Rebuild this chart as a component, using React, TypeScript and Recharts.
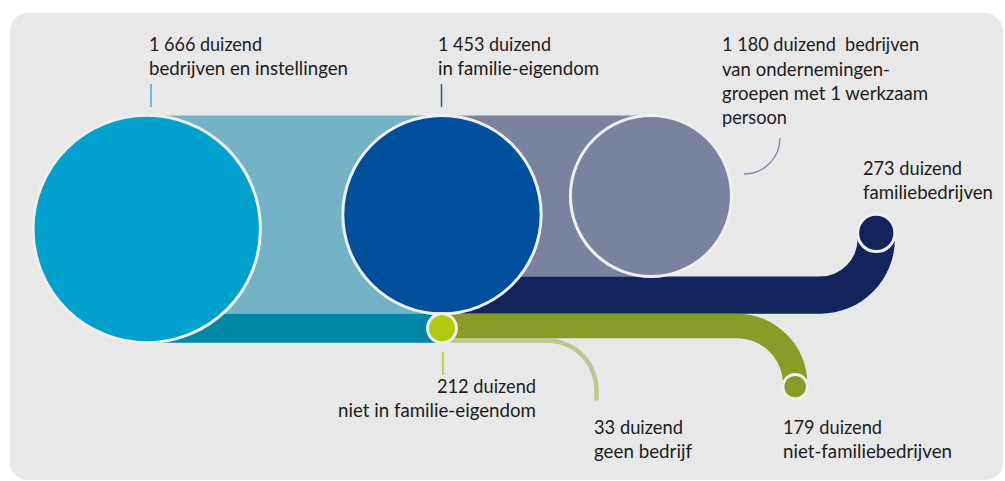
import React from 'react';
import { ComposedChart, XAxis, YAxis, ReferenceArea } from 'recharts';

// ---------- DATA (thousands) ----------
const totalValue = 1666; // bedrijven en instellingen
const ownershipNames = ['in familie-eigendom', 'niet in familie-eigendom'];
const ownershipValues = [1453, 212];
const familyOwnedNames = ['bedrijven van ondernemingengroepen met 1 werkzaam persoon', 'familiebedrijven'];
const familyOwnedValues = [1180, 273];
const notFamilyNames = ['niet-familiebedrijven', 'geen bedrijf'];
const notFamilyValues = [179, 33];

const labelTotal = ['1 666 duizend', 'bedrijven en instellingen'];
const labelFamily = ['1 453 duizend', 'in familie-eigendom'];
const labelGroups = ['1 180 duizend  bedrijven', 'van ondernemingen-', 'groepen met 1 werkzaam', 'persoon'];
const labelFamBiz = ['273 duizend', 'familiebedrijven'];
const labelNotFam = ['212 duizend', 'niet in familie-eigendom'];
const labelNoBiz = ['33 duizend', 'geen bedrijf'];
const labelNotFamBiz = ['179 duizend', 'niet-familiebedrijven'];

// ---------- LAYOUT (axis units = thousands, same scale on both axes) ----------
const W = 1005;
const H = 481;
const PX_PER_UNIT = 0.1365;
const BASE_PX = 342.7; // pixel row of value 0
const X_DOMAIN: [number, number] = [0, W / PX_PER_UNIT];
const Y_DOMAIN: [number, number] = [BASE_PX / PX_PER_UNIT - H / PX_PER_UNIT, BASE_PX / PX_PER_UNIT];
const OVERLAP = 6;
const layout = {
  col0: 1075,
  col1: 3238,
  col2: 4769,
  navyTurnX: 6007,
  navyInnerR: 276,
  navyEndY: 804,
  greenTurnX: 5399,
  greenInnerR: 337,
  greenEndY: -322,
  lightTurnX: 4007,
  lightInnerR: 346,
  lightEndY: -409,
};

const C = {
  bg: '#e8e8e8',
  ring: '#efefef',
  c1: '#00a2cd',
  band1: '#74b3c6',
  teal: '#0087a8',
  c2: '#004f9d',
  grey: '#7a829f',
  navy: '#13235c',
  greenNode: '#b1c90f',
  green: '#8a9c27',
  lightGreen: '#bdc88a',
  text: '#1c1c1c',
};

const circleShape = (fill: string, ring = true) => (p: any) => (
  <ellipse
    cx={p.x + p.width / 2}
    cy={p.y + p.height / 2}
    rx={p.width / 2}
    ry={p.height / 2}
    fill={fill}
    stroke={ring ? C.ring : 'none'}
    strokeWidth={ring ? 3 : 0}
  />
);

// quarter annulus, turning upward (center at top-left of box)
const turnUpShape = (fill: string, ratio: number) => (p: any) => {
  const { x, y, width: w, height: h } = p;
  const wi = w * ratio;
  const hi = h * ratio;
  const d = `M ${x} ${y + h} A ${w} ${h} 0 0 0 ${x + w} ${y} L ${x + wi} ${y} A ${wi} ${hi} 0 0 1 ${x} ${y + hi} Z`;
  return <path d={d} fill={fill} />;
};

// quarter annulus, turning downward (center at bottom-left of box)
const turnDownShape = (fill: string, ratio: number) => (p: any) => {
  const { x, y, width: w, height: h } = p;
  const wi = w * ratio;
  const hi = h * ratio;
  const d = `M ${x} ${y} A ${w} ${h} 0 0 1 ${x + w} ${y + h} L ${x + wi} ${y + h} A ${wi} ${hi} 0 0 0 ${x} ${y + h - hi} Z`;
  return <path d={d} fill={fill} />;
};

function Circle(cx: number, cy: number, v: number, fill: string, key: string, ring = true) {
  return (
    <ReferenceArea
      key={key}
      x1={cx - v / 2}
      x2={cx + v / 2}
      y1={cy - v / 2}
      y2={cy + v / 2}
      ifOverflow="visible"
      shape={circleShape(fill, ring)}
    />
  );
}

function Band(x1: number, x2: number, y1: number, y2: number, fill: string, key: string) {
  return (
    <ReferenceArea key={key} x1={x1} x2={x2} y1={y1} y2={y2} fill={fill} fillOpacity={1} stroke="none" ifOverflow="visible" />
  );
}

export default function App() {
  const [famVal, notFamVal] = ownershipValues;
  const [groupVal, famBizVal] = familyOwnedValues;
  const [notFamBizVal, noBizVal] = notFamilyValues;
  const top = notFamVal + famVal;

  // navy curve
  const navyRo = layout.navyInnerR + famBizVal;
  const navyCy = notFamVal + navyRo;
  // green curve
  const greenRo = layout.greenInnerR + notFamBizVal;
  const greenCy = notFamVal - greenRo;
  // light green curve
  const lightRo = layout.lightInnerR + noBizVal;
  const lightCy = noBizVal - lightRo;

  const elems: any[] = [
    Band(layout.col0, layout.col1, notFamVal, top, C.band1, 'b1'),
    Band(layout.col0, layout.col1, 0, notFamVal, C.teal, 'b2'),
    Band(layout.col1, layout.col2, top - groupVal, top, C.grey, 'b3'),
    // navy
    <ReferenceArea key="n2" x1={layout.navyTurnX} x2={layout.navyTurnX + navyRo} y1={notFamVal} y2={navyCy} ifOverflow="visible" shape={turnUpShape(C.navy, layout.navyInnerR / navyRo)} />,
    Band(layout.col1, layout.navyTurnX + OVERLAP, notFamVal, notFamVal + famBizVal, C.navy, 'n1'),
    Band(layout.navyTurnX + layout.navyInnerR, layout.navyTurnX + navyRo, navyCy - OVERLAP, layout.navyEndY, C.navy, 'n3'),
    // green
    <ReferenceArea key="g2" x1={layout.greenTurnX} x2={layout.greenTurnX + greenRo} y1={greenCy} y2={notFamVal} ifOverflow="visible" shape={turnDownShape(C.green, layout.greenInnerR / greenRo)} />,
    Band(layout.col1, layout.greenTurnX + OVERLAP, noBizVal, notFamVal, C.green, 'g1'),
    Band(layout.greenTurnX + layout.greenInnerR, layout.greenTurnX + greenRo, layout.greenEndY, greenCy + OVERLAP, C.green, 'g3'),
    // light green
    <ReferenceArea key="l2" x1={layout.lightTurnX} x2={layout.lightTurnX + lightRo} y1={lightCy} y2={noBizVal} ifOverflow="visible" shape={turnDownShape(C.lightGreen, layout.lightInnerR / lightRo)} />,
    Band(layout.col1, layout.lightTurnX + OVERLAP, 0, noBizVal, C.lightGreen, 'l1'),
    Band(layout.lightTurnX + layout.lightInnerR, layout.lightTurnX + lightRo, layout.lightEndY, lightCy + OVERLAP, C.lightGreen, 'l3'),
    Circle(layout.lightTurnX + layout.lightInnerR + noBizVal / 2, layout.lightEndY, noBizVal, C.lightGreen, 'l4', false),
    // nodes
    Circle(layout.col0, totalValue / 2, totalValue, C.c1, 'c1'),
    Circle(layout.col1, notFamVal + famVal / 2, famVal, C.c2, 'c2'),
    Circle(layout.col2, top - groupVal / 2, groupVal, C.grey, 'c3'),
    Circle(layout.col1, notFamVal / 2, notFamVal, C.greenNode, 'c4'),
    Circle(layout.navyTurnX + layout.navyInnerR + famBizVal / 2, layout.navyEndY, famBizVal, C.navy, 'c5'),
    Circle(layout.greenTurnX + layout.greenInnerR + notFamBizVal / 2, layout.greenEndY, notFamBizVal, C.green, 'c6'),
  ];

  const font = 'Lato, "Open Sans", sans-serif';
  const T = (x: number, y: number, s: string, len: number, anchor: 'start' | 'end' = 'start') => (
    <text
      key={s}
      x={x}
      y={y}
      textAnchor={anchor}
      textLength={len}
      lengthAdjust="spacingAndGlyphs"
      fontFamily={font}
      fontSize={18.5}
      fill={C.text}
      style={{ whiteSpace: 'pre' }}
    >
      {s}
    </text>
  );

  return (
    <div style={{ position: 'relative', width: W, height: H }}>
      <style>{'body{margin:0;}'}</style>
      <div
        style={{
          position: 'absolute',
          left: 10,
          top: 13,
          width: 993,
          height: 467,
          background: C.bg,
          borderRadius: 18,
        }}
      />
      <div style={{ position: 'absolute', left: 0, top: 0 }}>
        <ComposedChart width={W} height={H} data={[]} margin={{ top: 0, right: 0, bottom: 0, left: 0 }}>
          <XAxis type="number" dataKey="x" domain={X_DOMAIN} allowDataOverflow hide />
          <YAxis type="number" dataKey="y" domain={Y_DOMAIN} allowDataOverflow hide />
          {elems}
        </ComposedChart>
      </div>
      <svg width={W} height={H} style={{ position: 'absolute', left: 0, top: 0, pointerEvents: 'none' }}>
        <line x1={151} y1={84} x2={151} y2={107} stroke="#3fb0d9" strokeWidth={1.5} />
        <line x1={441.5} y1={84} x2={441.5} y2={107} stroke="#1c5aa6" strokeWidth={1.5} />
        <line x1={443} y1={352} x2={443} y2={375} stroke="#b5cc2a" strokeWidth={1.5} />
        <path d="M 780 138 A 36 36 0 0 1 744 174" stroke="#7a83a8" strokeWidth={1.3} fill="none" />
        {T(149, 51, labelTotal[0], 113)}
        {T(149, 75, labelTotal[1], 199)}
        {T(438, 51, labelFamily[0], 113)}
        {T(438, 75, labelFamily[1], 161)}
        {T(722, 51, labelGroups[0], 197)}
        {T(722, 75.5, labelGroups[1], 168)}
        {T(722, 100, labelGroups[2], 206)}
        {T(722, 124, labelGroups[3], 65)}
        {T(863, 175, labelFamBiz[0], 99)}
        {T(863, 199, labelFamBiz[1], 130)}
        {T(536, 393, labelNotFam[0], 99, 'end')}
        {T(536, 417, labelNotFam[1], 198, 'end')}
        {T(594, 434, labelNoBiz[0], 89)}
        {T(594, 458, labelNoBiz[1], 98)}
        {T(783, 434, labelNotFamBiz[0], 99)}
        {T(783, 458, labelNotFamBiz[1], 169)}
      </svg>
    </div>
  );
}
